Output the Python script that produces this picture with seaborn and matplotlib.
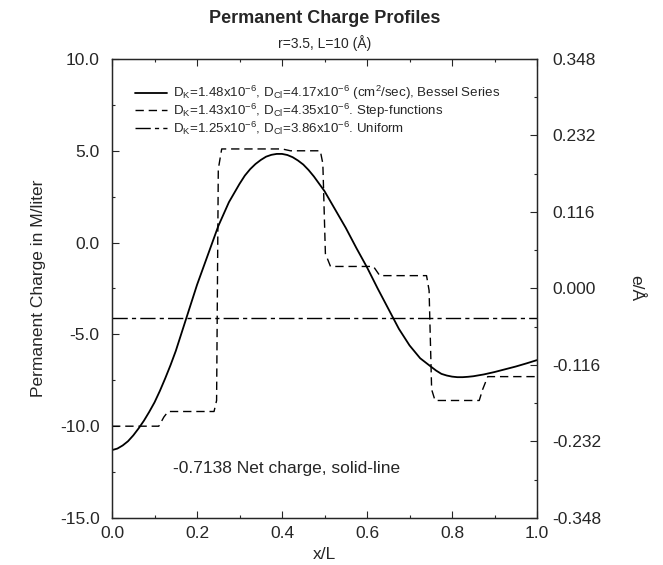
import numpy as np
import pandas as pd
import matplotlib
matplotlib.use("Agg")
import matplotlib.pyplot as plt
from matplotlib.ticker import MultipleLocator, FixedLocator, FormatStrFormatter
import seaborn as sns

# data
bessel_x = [0.0, 0.0125, 0.025, 0.0375, 0.05, 0.0625, 0.075, 0.0875, 0.1, 0.1125,
            0.125, 0.1375, 0.15, 0.175, 0.2, 0.225, 0.25, 0.275, 0.3, 0.3125,
            0.325, 0.3375, 0.35, 0.3625, 0.375, 0.3875, 0.4, 0.4125, 0.425, 0.4375,
            0.45, 0.4625, 0.475, 0.5, 0.525, 0.55, 0.575, 0.6, 0.625, 0.65,
            0.675, 0.7, 0.725, 0.75, 0.7625, 0.775, 0.7875, 0.8, 0.8125, 0.825,
            0.8375, 0.85, 0.875, 0.9, 0.925, 0.95, 0.975, 1.0]
bessel_y = [-11.3, -11.22, -11.05, -10.82, -10.5, -10.12, -9.7, -9.22, -8.7, -8.08,
            -7.4, -6.68, -5.9, -4.1, -2.3, -0.7, 0.9, 2.2, 3.2, 3.65,
            4.0, 4.28, 4.5, 4.68, 4.78, 4.83, 4.83, 4.77, 4.65, 4.47,
            4.25, 3.95, 3.6, 2.8, 1.8, 0.8, -0.3, -1.35, -2.5, -3.6,
            -4.7, -5.6, -6.3, -6.75, -6.97, -7.15, -7.24, -7.3, -7.33, -7.33,
            -7.31, -7.28, -7.18, -7.05, -6.9, -6.75, -6.58, -6.4]

step_x = [0.0, 0.110, 0.122, 0.132, 0.240, 0.246, 0.250, 0.258, 0.400, 0.420, 0.490,
          0.496, 0.502, 0.514, 0.615, 0.630, 0.740, 0.746, 0.752, 0.760, 0.864, 0.872,
          0.884, 1.0]
step_y = [-10.0, -10.0, -9.5, -9.2, -9.2, -8.6, 4.0, 5.1, 5.1, 5.0, 5.0,
          4.3, -0.6, -1.3, -1.3, -1.8, -1.8, -2.6, -8.0, -8.6, -8.6, -8.0,
          -7.3, -7.3]

uniform_x = [0.0, 1.0]
uniform_y = [-4.1, -4.1]

labels = [
    r"D$_{K}$=1.48x10$^{-6}$, D$_{Cl}$=4.17x10$^{-6}$ (cm$^{2}$/sec), Bessel Series",
    r"D$_{K}$=1.43x10$^{-6}$, D$_{Cl}$=4.35x10$^{-6}$. Step-functions",
    r"D$_{K}$=1.25x10$^{-6}$, D$_{Cl}$=3.86x10$^{-6}$. Uniform",
]

sns.set_style("ticks")
plt.rcParams['font.family'] = ['Liberation Sans', 'DejaVu Sans']
plt.rcParams['mathtext.fontset'] = 'custom'
plt.rcParams['mathtext.rm'] = 'Liberation Sans'
plt.rcParams['mathtext.default'] = 'regular'

fig = plt.figure(figsize=(6.63, 5.65), dpi=100)
ax = fig.add_axes([0.169, 0.0832, 0.641, 0.8124])

sns.lineplot(x=bessel_x, y=bessel_y, ax=ax, color='black', lw=1.3,
             estimator=None, sort=False, label=labels[0])
sns.lineplot(x=step_x, y=step_y, ax=ax, color='black', lw=1.0,
             linestyle=(0, (6, 3.5)), estimator=None, sort=False, label=labels[1])
sns.lineplot(x=uniform_x, y=uniform_y, ax=ax, color='black', lw=1.0,
             linestyle=(0, (11, 3, 3, 3)), estimator=None, sort=False, label=labels[2])

ax.set_xlim(0, 1)
ax.set_ylim(-15, 10)
ax.xaxis.set_major_locator(MultipleLocator(0.2))
ax.xaxis.set_minor_locator(MultipleLocator(0.1))
ax.yaxis.set_major_locator(MultipleLocator(5))
ax.yaxis.set_minor_locator(MultipleLocator(2.5))
ax.xaxis.set_major_formatter(FormatStrFormatter('%.1f'))
ax.yaxis.set_major_formatter(FormatStrFormatter('%.1f'))
ax.tick_params(which='both', direction='in', top=True, right=False, labelsize=12.5)
ax.tick_params(which='major', length=5, width=0.8)
ax.tick_params(which='minor', length=2.5, width=0.8)
ax.tick_params(axis='y', pad=9)
ax.tick_params(axis='x', pad=6)
ax.set_xlabel('x/L', fontsize=12.5, labelpad=4)
ax.set_ylabel('Permanent Charge in M/liter', fontsize=12.5, labelpad=10)
for s in ax.spines.values():
    s.set_linewidth(1.0)

ax2 = ax.twinx()
ax2.set_ylim(-0.348, 0.348)
ax2.yaxis.set_major_locator(FixedLocator([-0.348, -0.232, -0.116, 0.0, 0.116, 0.232, 0.348]))
ax2.yaxis.set_minor_locator(FixedLocator([-0.29, -0.174, -0.058, 0.058, 0.174, 0.29]))
ax2.yaxis.set_major_formatter(FormatStrFormatter('%.3f'))
ax2.tick_params(which='both', direction='in', labelsize=12.5, pad=11)
ax2.tick_params(which='major', length=5, width=0.8)
ax2.tick_params(which='minor', length=2.5, width=0.8)
ax2.set_ylabel('e/Å', fontsize=12.5, rotation=270, labelpad=30)

leg = ax.legend(loc='upper left', bbox_to_anchor=(0.054, 0.945), frameon=False,
                fontsize=9.6, handlelength=2.4, handletextpad=0.45,
                labelspacing=-0.05, borderpad=0, borderaxespad=0)

ax.text(0.143, -12.3, '-0.7138 Net charge, solid-line', fontsize=12.5, va='center')

fig.text(0.489, 0.968, 'Permanent Charge Profiles', fontsize=13, fontweight='bold',
         ha='center', va='center')
fig.text(0.489, 0.924, 'r=3.5, L=10 (Å)', fontsize=10, ha='center', va='center')

fig.savefig('out.png', dpi=100)
